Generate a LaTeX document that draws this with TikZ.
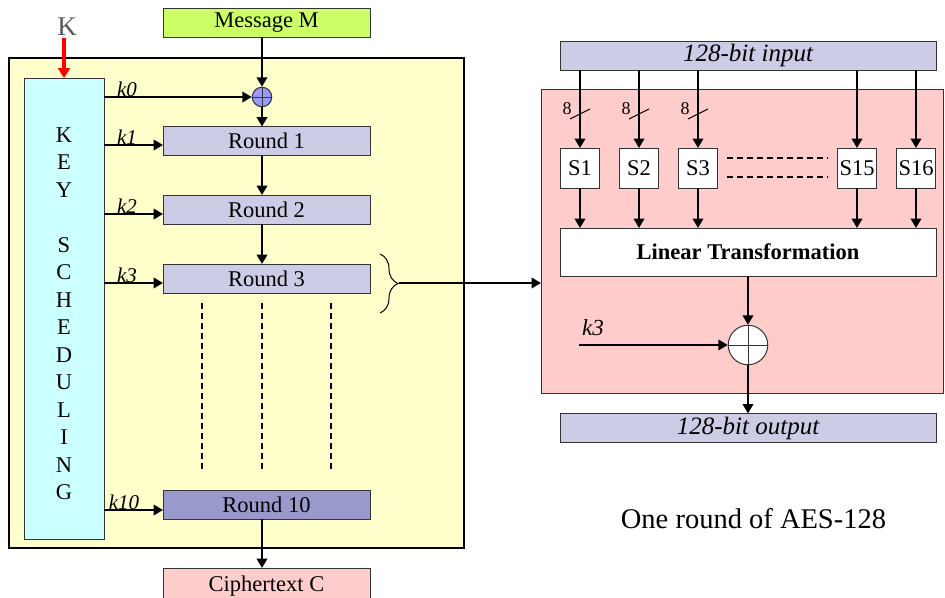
\documentclass[tikz,border=0pt]{standalone}
\usepackage{fontspec}
\setmainfont{Liberation Serif}
\usetikzlibrary{arrows.meta,decorations.pathreplacing}
\definecolor{paleyellow}{HTML}{FFFFCC}
\definecolor{palecyan}{HTML}{CCFFFF}
\definecolor{limegreen}{HTML}{CCFF66}
\definecolor{lav}{HTML}{CCCCE6}
\definecolor{lavdark}{HTML}{9999CC}
\definecolor{palepink}{HTML}{FFCCCC}
\definecolor{xorblue}{HTML}{9999FF}
\definecolor{klabel}{HTML}{5A5A5A}
\newcommand{\fs}[1]{\fontsize{#1}{#1}\selectfont}
\begin{document}
\begin{tikzpicture}[x=1pt,y=-1pt,
  blk/.style={draw=black!80, line width=1pt, inner sep=0pt, outer sep=0pt, font=\fs{22.5}},
  roundbox/.style={blk, fill=lav, minimum width=207pt, minimum height=29pt},
  wide/.style={blk, fill=lav, minimum width=376pt, minimum height=29pt, font=\fs{25}\itshape},
  sbox/.style={blk, fill=white, minimum width=39pt, minimum height=40pt},
  arr/.style={line width=2.3pt, -{Triangle[length=9.5pt,width=10.5pt]}},
  klab/.style={font=\fs{21}\itshape, anchor=base, inner sep=0pt},
  eight/.style={font=\fs{18}, inner sep=0pt},
  dotline/.style={line width=1.6pt, dash pattern=on 6pt off 4pt},
  plusline/.style={line width=1pt, draw=black!80}]
\useasboundingbox (0,0) rectangle (945,597);

% ---- left part: ten-round encryption ----
\node[draw=black, line width=2.6pt, fill=paleyellow, minimum width=455pt, minimum height=490pt, inner sep=0pt] (outer) at (236.5,303) {};
\node[blk, fill=palecyan, minimum width=80pt, minimum height=461pt] (key) at (64,308.5) {};
\node[font=\fontsize{22.5}{27.5}\selectfont, align=center, inner sep=0pt] (keytxt) at (64,313.5)
  {K\\E\\Y\\[27.5pt]S\\C\\H\\E\\D\\U\\L\\I\\N\\G};

\node[font=\fs{27}, text=klabel, inner sep=0pt] (K) at (67,27) {K};
\draw[line width=3.6pt, red, -{Triangle[length=10pt,width=12pt]}] (key.north |- 0,38) -- (key.north);

\node[blk, fill=limegreen, minimum width=207pt, minimum height=29pt] (msg) at (266.5,22.5) {Message M};
\node[circle, draw=black!80, line width=1pt, fill=xorblue, minimum size=19.5pt, inner sep=0pt] (x0) at (262,97) {};
\draw[plusline] (x0.north) -- (x0.south) (x0.west) -- (x0.east);

\node[roundbox] (r1) at (266.5,141) {Round 1};
\node[roundbox] (r2) at (266.5,209.5) {Round 2};
\node[roundbox] (r3) at (266.5,278.5) {Round 3};
\node[roundbox, fill=lavdark] (r10) at (266.5,504.5) {Round 10};
\node[blk, fill=palepink, minimum width=207pt, minimum height=36pt] (ct) at (266.5,586) {Ciphertext C};

\draw[arr] (x0 |- msg.south) -- (x0.north);
\draw[arr] (x0.south) -- (x0 |- r1.north);
\draw[arr] (x0 |- r1.south) -- (x0 |- r2.north);
\draw[arr] (x0 |- r2.south) -- (x0 |- r3.north);
\draw[arr] (x0 |- r10.south) -- (x0 |- ct.north);

\draw[arr] (key.east |- x0) -- (x0.west);
\draw[arr] (key.east |- 0,145) -- (r1.west |- 0,145);
\draw[arr] (key.east |- 0,214) -- (r2.west |- 0,214);
\draw[arr] (key.east |- 0,283) -- (r3.west |- 0,283);
\draw[arr] (key.east |- 0,510) -- (r10.west |- 0,510);
\node[klab] (k0) at (127,96) {k0};
\node[klab] (k1) at (127,144) {k1};
\node[klab] (k2) at (127,213) {k2};
\node[klab] (k3) at (127,282) {k3};
\node[klab] (k10) at (124,509) {k10};

\draw[dotline] (202,303) -- (202,471);
\draw[dotline] (262,303) -- (262,471);
\draw[dotline] (331,303) -- (331,471);

% brace grouping one round
\draw[line width=1pt, decorate, decoration={brace, amplitude=18pt}] (380,254) -- (380,313);
\coordinate (bt) at (399,283);

% ---- right part: one AES round ----
\node[blk, fill=palepink, minimum width=402pt, minimum height=304pt] (pink) at (742,241) {};
\draw[arr] (bt) -- (pink.west |- bt);

\node[wide] (in) at (748,55.5) {128-bit input};
\node[sbox] (s1) at (580,168) {S1};
\node[sbox] (s2) at (639,168) {S2};
\node[sbox] (s3) at (698,168) {S3};
\node[sbox] (s15) at (857,168) {S15};
\node[sbox] (s16) at (916,168) {S16};
\node[blk, fill=white, minimum width=376pt, minimum height=48pt, font=\fs{22.5}\bfseries] (lt) at (748,252) {Linear Transformation};

\foreach \s in {s1,s2,s3,s15,s16} {
  \draw[arr] (\s |- in.south) -- (\s.north);
  \draw[arr] (\s.south) -- (\s |- lt.north);
}
\foreach \s/\n in {s1/a,s2/b,s3/c} {
  \draw[line width=1pt] ([xshift=-10pt,yshift=-5pt]\s.north |- 0,114) -- ([xshift=10pt,yshift=5pt]\s.north |- 0,114);
  \node[eight] (e\n) at ([xshift=-13pt]\s.north |- 0,109) {8};
}
\draw[dotline] (727,158) -- (828,158);
\draw[dotline] (727,177) -- (828,177);

\node[circle, draw=black!80, line width=1pt, fill=white, minimum size=39.5pt, inner sep=0pt] (x1) at (748,345) {};
\draw[plusline] (x1.north) -- (x1.south) (x1.west) -- (x1.east);
\draw[arr] (x1 |- lt.south) -- (x1.north);
\coordinate (kin) at (579,345);
\draw[arr] (kin) -- (x1.west);
\node[font=\fs{23}\itshape, inner sep=0pt] (k3r) at (593,328) {k3};

\node[wide] (out) at (748,428) {128-bit output};
\draw[arr] (x1.south) -- (x1 |- out.north);

\node[font=\fs{28.5}, inner sep=0pt] (cap) at (753.5,519) {One round of AES-128};
\end{tikzpicture}
\end{document}
